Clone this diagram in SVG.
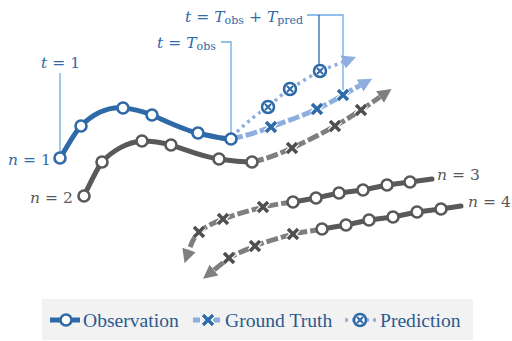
<svg xmlns="http://www.w3.org/2000/svg" width="512" height="341" viewBox="0 0 512 341">
<style>
.lbl{font-family:"DejaVu Serif","Liberation Serif",serif;font-size:15.5px}
.it{font-style:italic}
.sub{font-size:11px}
.blue{fill:#2f6aa8}
.gray{fill:#595959}
.obsB{fill:none;stroke:#2f6aa8;stroke-width:5;stroke-linejoin:round;stroke-linecap:round}
.obsG{fill:none;stroke:#595959;stroke-width:5;stroke-linejoin:round;stroke-linecap:round}
.gtB{fill:none;stroke:#8eaee0;stroke-width:5;stroke-dasharray:12 3}
.gtG{fill:none;stroke:#7f7f7f;stroke-width:5;stroke-dasharray:12 3}
.pred{fill:none;stroke:#8eaee0;stroke-width:3.5;stroke-dasharray:3 4}
.brk{fill:none;stroke:#6fa8e8;stroke-width:1.3}
.brk2{fill:none;stroke:#2f6aa8;stroke-width:1.3}
.leg{font-family:"Liberation Serif","Times New Roman",serif;font-size:19.6px;fill:#2b5a8f}
</style>
<defs>
<marker id="ahB" markerUnits="userSpaceOnUse" markerWidth="16" markerHeight="16" viewBox="0 -8 16 16" refX="0" refY="0" orient="auto"><path d="M0,-7 L14,0 L0,7 Z" fill="#8eaee0"/></marker>
<marker id="ahG" markerUnits="userSpaceOnUse" markerWidth="16" markerHeight="16" viewBox="0 -8 16 16" refX="0" refY="0" orient="auto"><path d="M0,-7 L14,0 L0,7 Z" fill="#7f7f7f"/></marker>
<g id="cB"><circle r="5.5" fill="#fff" stroke="#2f6aa8" stroke-width="2.6"/></g>
<g id="cG"><circle r="5.5" fill="#fff" stroke="#595959" stroke-width="2.6"/></g>
<g id="xB"><path d="M-5,-5 L5,5 M-5,5 L5,-5" stroke="#fff" stroke-width="6"/><path d="M-5,-5 L5,5 M-5,5 L5,-5" stroke="#2f6aa8" stroke-width="3.5"/></g>
<g id="xG"><path d="M-5,-5 L5,5 M-5,5 L5,-5" stroke="#fff" stroke-width="6"/><path d="M-5,-5 L5,5 M-5,5 L5,-5" stroke="#4f4f4f" stroke-width="3.5"/></g>
<g id="pB"><circle r="6" fill="#fff" stroke="#2f6aa8" stroke-width="2.5"/><path d="M-3,-3 L3,3 M-3,3 L3,-3" stroke="#2f6aa8" stroke-width="2"/></g>
</defs>

<g id="connectors">
<path class="brk" d="M60,73 L60,154"/>
<path class="brk" d="M221,42 L231,42 L231,134"/>
<path class="brk" d="M307,15 L343,15 L343,90"/>
<path class="brk2" d="M319,15 L319,64"/>
<path class="gtG" marker-end="url(#ahG)" d="M252,162 C266,159 279,154 292,148 C307,141 321,134 335,126 C344,121 352,116 361,110 L380,97"/>
<path class="gtB" marker-end="url(#ahB)" d="M231,139 C245,136 258,132 271,127 C287,121 302,116 317,109 C326,105 335,100 343,95 L360,85.5"/>
<path class="pred" marker-end="url(#ahB)" d="M237,132 C247,122 257,114 268,107 C275,101 282,94 290,89 C300,83 310,76 320,71 L343,62"/>
<path class="gtG" marker-end="url(#ahG)" d="M293,202 C283,203 273,205 263,207 C249,211 236,214 223,219 C213,223 205,227 199,232 C194,237 191,244 189,250"/>
<path class="gtG" marker-end="url(#ahG)" d="M322,229 C312,231 303,232 293,234 C280,238 267,241 255,246 C246,250 237,253 229,258 L214,270"/>
<path class="obsG" d="M84,196 C90,184 95,172 102,162 C113,150 128,142 142,141 C153,141 160,142 171,145 C187,150 203,157 219,159 C232,161 243,162 252,162"/>
<path class="obsB" d="M60,158 C68,146 74,133 81,126 C95,112 110,107 123,108 C135,109 142,111 152,115 C168,122 184,130 198,133 C210,136 222,139 231,139"/>
<path class="obsG" d="M432,179 L410,182 L387,185 L363,190 L339,193 L316,198 L293,202"/>
<path class="obsG" d="M461,206 L441,209 L417,212 L393,217 L369,220 L346,225 L322,229"/>
</g>

<g id="n1">
<use href="#cB" x="60" y="158"/><use href="#cB" x="81" y="126"/><use href="#cB" x="123" y="108"/><use href="#cB" x="152" y="115"/><use href="#cB" x="198" y="133"/><use href="#cB" x="231" y="139"/>
<use href="#xB" x="271" y="127"/><use href="#xB" x="317" y="109"/><use href="#xB" x="343" y="95"/>
<use href="#pB" x="268" y="107"/><use href="#pB" x="290" y="89"/><use href="#pB" x="320" y="71"/>
</g>
<g id="n2">
<use href="#cG" x="84" y="196"/><use href="#cG" x="102" y="162"/><use href="#cG" x="142" y="141"/><use href="#cG" x="171" y="145"/><use href="#cG" x="219" y="159"/><use href="#cG" x="252" y="162"/>
<use href="#xG" x="292" y="148"/><use href="#xG" x="335" y="126"/><use href="#xG" x="361" y="110"/>
</g>
<g id="n3">
<use href="#cG" x="410" y="182"/><use href="#cG" x="387" y="185"/><use href="#cG" x="363" y="190"/><use href="#cG" x="339" y="193"/><use href="#cG" x="316" y="198"/><use href="#cG" x="293" y="202"/>
<use href="#xG" x="263" y="207"/><use href="#xG" x="223" y="219"/><use href="#xG" x="199" y="232"/>
</g>
<g id="n4">
<use href="#cG" x="441" y="209"/><use href="#cG" x="417" y="212"/><use href="#cG" x="393" y="217"/><use href="#cG" x="369" y="220"/><use href="#cG" x="346" y="225"/><use href="#cG" x="322" y="229"/>
<use href="#xG" x="293" y="234"/><use href="#xG" x="255" y="246"/><use href="#xG" x="229" y="258"/>
</g>

<g id="labels">
<text class="lbl blue" x="41" y="68"><tspan class="it">t</tspan><tspan dx="5">=</tspan><tspan dx="5">1</tspan></text>
<text class="lbl blue" x="157" y="48"><tspan class="it">t</tspan><tspan dx="5">=</tspan><tspan dx="5" class="it">T</tspan><tspan class="sub" dy="2">obs</tspan></text>
<text class="lbl blue" x="185" y="22"><tspan class="it">t</tspan><tspan dx="5">=</tspan><tspan dx="5" class="it">T</tspan><tspan class="sub" dy="2">obs</tspan><tspan dx="5" dy="-2">+</tspan><tspan dx="5" class="it">T</tspan><tspan class="sub" dy="2">pred</tspan></text>
<text class="lbl blue" x="8" y="165"><tspan class="it">n</tspan><tspan dx="5">=</tspan><tspan dx="5">1</tspan></text>
<text class="lbl gray" x="30" y="203"><tspan class="it">n</tspan><tspan dx="5">=</tspan><tspan dx="5">2</tspan></text>
<text class="lbl gray" x="437" y="180"><tspan class="it">n</tspan><tspan dx="5">=</tspan><tspan dx="5">3</tspan></text>
<text class="lbl gray" x="468" y="207"><tspan class="it">n</tspan><tspan dx="5">=</tspan><tspan dx="5">4</tspan></text>
</g>

<g id="legend">
<rect x="42" y="299" width="431" height="41" fill="#f2f2f2"/>
<path d="M50,320 L80,320" stroke="#2f6aa8" stroke-width="5"/>
<use href="#cB" x="66" y="320"/>
<text class="leg" x="83" y="327">Observation</text>
<path d="M193,320 L223,320" stroke="#8eaee0" stroke-width="5" stroke-dasharray="7 3"/>
<use href="#xB" x="208" y="320"/>
<text class="leg" x="225" y="327">Ground Truth</text>
<path d="M345,320 L376,320" stroke="#8eaee0" stroke-width="3.5" stroke-dasharray="3 4"/>
<use href="#pB" x="360" y="320"/>
<text class="leg" x="380" y="327">Prediction</text>
</g>
</svg>
